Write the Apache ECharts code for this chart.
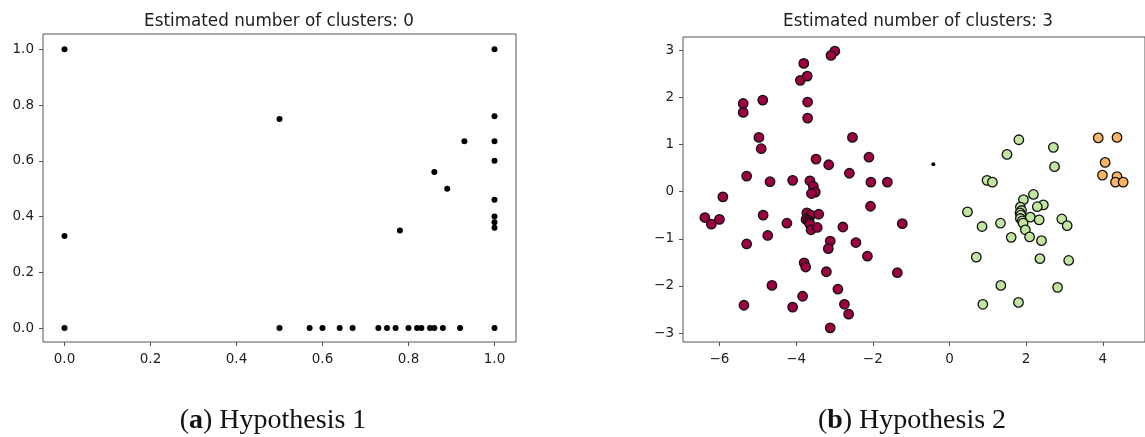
<!DOCTYPE html>
<html>
<head>
<meta charset="utf-8">
<script src="https://cdn.jsdelivr.net/npm/echarts@6/dist/echarts.min.js"></script>
<style>
  html, body { margin: 0; padding: 0; background: #fff; }
  #chart { width: 1145px; height: 437px; }
</style>
</head>
<body>
<div id="chart"></div>
<script>
// hypothesis 1 : everything is noise (0 clusters)
var hyp1Points = [
  [0, 1], [0, 0.33], [0, 0], [0.5, 0.75], [0.5, 0],
  [0.57, 0], [0.6, 0], [0.64, 0], [0.67, 0], [0.73, 0], [0.75, 0], [0.77, 0],
  [0.78, 0.35], [0.8, 0], [0.82, 0], [0.83, 0], [0.85, 0], [0.86, 0], [0.86, 0.56],
  [0.88, 0], [0.89, 0.5], [0.92, 0], [0.93, 0.67],
  [1, 1], [1, 0.76], [1, 0.67], [1, 0.6], [1, 0.46], [1, 0.4], [1, 0.38], [1, 0.36], [1, 0]
];

// hypothesis 2 : 3 clusters + 1 noise point
var hyp2Red = [
  [-2.99, 2.98], [-3.09, 2.89], [-3.80, 2.72], [-3.89, 2.36], [-3.71, 2.45], [-3.70, 1.90],
  [-3.70, 1.56], [-5.38, 1.87], [-5.38, 1.68], [-4.87, 1.94], [-4.97, 1.15], [-4.91, 0.91],
  [-2.53, 1.15], [-3.48, 0.69], [-3.15, 0.57], [-2.10, 0.73], [-2.61, 0.39], [-2.05, 0.20],
  [-1.62, 0.20], [-5.29, 0.33], [-4.68, 0.21], [-4.09, 0.24], [-3.64, 0.23], [-3.55, 0.11],
  [-3.50, -0.01], [-3.60, -0.04], [-5.91, -0.11], [-6.38, -0.55], [-6.21, -0.69], [-6.00, -0.59],
  [-4.86, -0.50], [-4.24, -0.67], [-3.72, -0.45], [-3.61, -0.50], [-3.74, -0.59], [-3.68, -0.61],
  [-3.66, -0.65], [-3.64, -0.69], [-3.61, -0.81], [-3.41, -0.48], [-3.45, -0.76], [-2.78, -0.75],
  [-4.74, -0.93], [-5.29, -1.11], [-3.11, -1.05], [-3.16, -1.21], [-2.44, -1.08], [-2.14, -1.37],
  [-2.06, -0.31], [-1.36, -1.72], [-1.23, -0.68], [-3.79, -1.51], [-3.75, -1.60], [-3.21, -1.70],
  [-4.63, -1.99], [-2.91, -2.07], [-3.83, -2.22], [-4.09, -2.45], [-5.36, -2.41], [-2.74, -2.39],
  [-2.63, -2.60], [-3.11, -2.89]
];
var hyp2Green = [
  [1.81, 1.10], [2.71, 0.94], [1.50, 0.79], [2.74, 0.53], [0.98, 0.24], [1.12, 0.20],
  [2.19, -0.06], [1.93, -0.17], [2.45, -0.28], [2.29, -0.32], [1.85, -0.33], [0.47, -0.43],
  [1.88, -0.40], [1.84, -0.45], [1.86, -0.50], [1.85, -0.57], [1.90, -0.62], [2.11, -0.54],
  [2.34, -0.60], [2.93, -0.58], [3.07, -0.72], [1.92, -0.67], [1.98, -0.81], [1.33, -0.67],
  [0.85, -0.74], [2.09, -0.96], [1.61, -0.97], [2.40, -1.04], [0.70, -1.39], [2.36, -1.42],
  [3.11, -1.46], [1.34, -1.99], [2.82, -2.03], [0.87, -2.39], [1.80, -2.35]
];
var hyp2Orange = [
  [3.88, 1.14], [4.37, 1.15], [4.06, 0.62], [3.99, 0.35], [4.37, 0.32], [4.33, 0.20], [4.53, 0.20]
];
var hyp2Noise = [[-0.42, 0.58]];

// tick labels
var hyp1Ticks = [0, 0.2, 0.4, 0.6, 0.8, 1.0];
var hyp2XTicks = [-6, -4, -2, 0, 2, 4];
var hyp2YTicks = [-3, -2, -1, 0, 1, 2, 3];

var titles = ['Estimated number of clusters: 0', 'Estimated number of clusters: 3'];
var captions = [['a', 'Hypothesis 1'], ['b', 'Hypothesis 2']];

var txtColor = '#1e1e1e';
var frameColor = '#555';

function minusFmt(v) {
  return v < 0 ? '\u2212' + Math.abs(v) : String(v);
}

function makeAxis(type, grid, min, max, ticks, fmt) {
  return {
    type: 'value',
    gridIndex: grid,
    position: type == 'x' ? 'bottom' : 'left',
    min: min,
    max: max,
    splitLine: { show: false },
    axisLine: { show: false, onZero: false },
    axisTick: {
      show: true, length: 4, inside: false, customValues: ticks,
      lineStyle: { color: frameColor, width: 1 }
    },
    axisLabel: {
      customValues: ticks,
      formatter: fmt,
      color: txtColor,
      fontFamily: 'DejaVu Sans',
      fontSize: 13.5,
      margin: type == 'x' ? 10 : 9
    }
  };
}

function caption(x, c) {
  return {
    type: 'text', x: x, y: 421,
    style: {
      text: '{p|(}{b|' + c[0] + '}{p|) ' + c[1] + '}',
      align: 'center', verticalAlign: 'middle',
      rich: {
        p: { fontFamily: 'Liberation Serif', fontSize: 28, fill: '#111' },
        b: { fontFamily: 'Liberation Serif', fontSize: 28, fontWeight: 'bold', fill: '#111' }
      }
    }
  };
}

var chart = echarts.init(document.getElementById('chart'));

chart.setOption({
  animation: false,
  backgroundColor: '#fff',
  grid: [
    { left: 43, top: 34, width: 473, height: 308, show: true, borderColor: frameColor, borderWidth: 1 },
    { left: 683, top: 37, width: 470, height: 305, show: true, borderColor: frameColor, borderWidth: 1 }
  ],
  xAxis: [
    makeAxis('x', 0, -0.05, 1.05, hyp1Ticks, function (v) { return v.toFixed(1); }),
    makeAxis('x', 1, -6.95, 5.1, hyp2XTicks, minusFmt)
  ],
  yAxis: [
    makeAxis('y', 0, -0.05, 1.055, hyp1Ticks, function (v) { return v.toFixed(1); }),
    makeAxis('y', 1, -3.19, 3.28, hyp2YTicks, minusFmt)
  ],
  graphic: [
    { type: 'text', x: 279, y: 22, style: { text: titles[0], fill: txtColor, font: '16.8px "DejaVu Sans"', align: 'center', verticalAlign: 'middle' } },
    { type: 'text', x: 918, y: 22, style: { text: titles[1], fill: txtColor, font: '16.8px "DejaVu Sans"', align: 'center', verticalAlign: 'middle' } },
    caption(273, captions[0]),
    caption(912, captions[1])
  ],
  series: [
    {
      name: 'noise 1', type: 'scatter', xAxisIndex: 0, yAxisIndex: 0,
      data: hyp1Points, symbolSize: 6,
      itemStyle: { color: '#000', opacity: 1 }
    },
    {
      name: 'cluster 0', type: 'scatter', xAxisIndex: 1, yAxisIndex: 1,
      data: hyp2Red, symbolSize: 9.5,
      itemStyle: { color: '#9e0142', borderColor: '#111', borderWidth: 1.3, opacity: 1 }
    },
    {
      name: 'cluster 1', type: 'scatter', xAxisIndex: 1, yAxisIndex: 1,
      data: hyp2Orange, symbolSize: 9.5,
      itemStyle: { color: '#fdb563', borderColor: '#111', borderWidth: 1.3, opacity: 1 }
    },
    {
      name: 'cluster 2', type: 'scatter', xAxisIndex: 1, yAxisIndex: 1,
      data: hyp2Green, symbolSize: 9.5,
      itemStyle: { color: '#c2e6a2', borderColor: '#111', borderWidth: 1.3, opacity: 1 }
    },
    {
      name: 'noise 2', type: 'scatter', xAxisIndex: 1, yAxisIndex: 1,
      data: hyp2Noise, symbolSize: 4,
      itemStyle: { color: '#000', opacity: 1 }
    }
  ]
});
</script>
</body>
</html>
